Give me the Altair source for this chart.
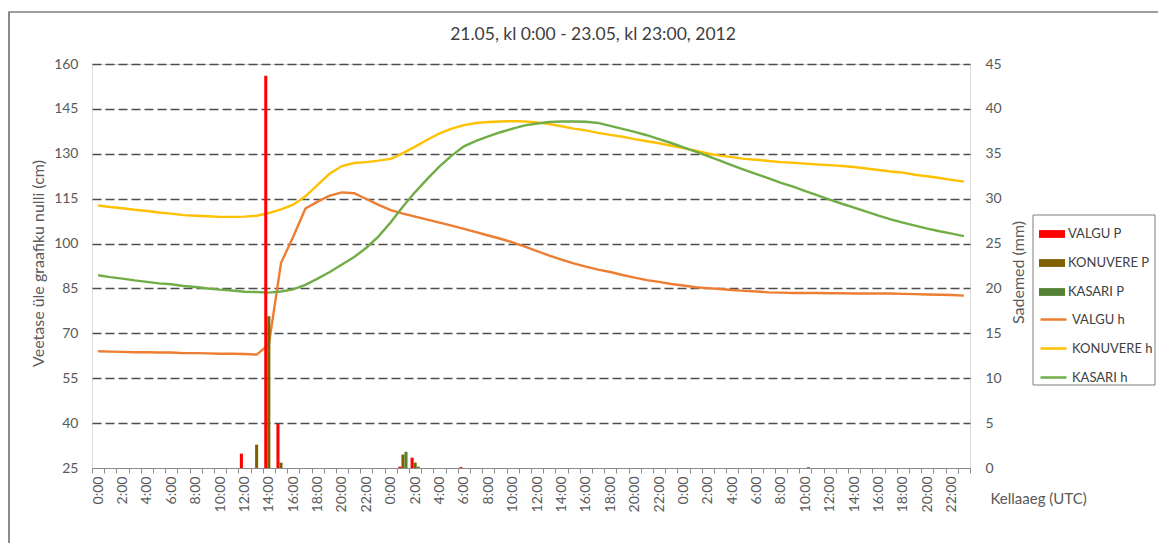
import altair as alt
import pandas as pd

# ---------------- data ----------------
hours = list(range(72))  # 21.05 0:00 ... 23.05 23:00

series_h = ["VALGU h", "KONUVERE h", "KASARI h"]
series_p = ["VALGU P", "KONUVERE P", "KASARI P"]

valgu_h = [64.0, 63.9, 63.8, 63.7, 63.7, 63.6, 63.6, 63.4, 63.4, 63.3, 63.2, 63.2,
           63.1, 62.9, 66.2, 93.5, 102.3, 111.7, 114.0, 116.0, 117.1, 116.8, 114.9, 112.9,
           111.2, 110.0, 109.0, 108.0, 107.0, 106.0, 104.9, 103.8, 102.7, 101.6, 100.4, 99.0,
           97.5, 96.0, 94.6, 93.4, 92.3, 91.3, 90.5, 89.5, 88.6, 87.8, 87.2, 86.5,
           86.0, 85.4, 85.1, 84.8, 84.5, 84.2, 84.0, 83.7, 83.6, 83.5, 83.5, 83.5,
           83.4, 83.4, 83.3, 83.3, 83.3, 83.3, 83.2, 83.1, 83.0, 82.9, 82.8, 82.6]

konuvere_h = [112.7, 112.2, 111.8, 111.3, 110.9, 110.4, 110.0, 109.5, 109.3, 109.1, 108.9, 108.9,
              109.0, 109.3, 110.2, 111.4, 113.0, 115.8, 119.6, 123.4, 125.9, 126.9, 127.2, 127.7,
              128.3, 130.2, 132.4, 134.7, 136.8, 138.4, 139.6, 140.3, 140.6, 140.8, 140.9, 140.8,
              140.5, 139.9, 139.2, 138.4, 137.8, 137.0, 136.3, 135.7, 134.9, 134.2, 133.5, 132.7,
              131.9, 131.0, 130.1, 129.4, 128.9, 128.3, 128.0, 127.6, 127.2, 127.0, 126.7, 126.4,
              126.2, 125.9, 125.6, 125.1, 124.6, 124.1, 123.7, 123.0, 122.5, 121.9, 121.3, 120.7]

kasari_h = [89.4, 88.8, 88.3, 87.7, 87.2, 86.7, 86.4, 85.8, 85.5, 85.0, 84.6, 84.3,
            83.9, 83.8, 83.6, 84.0, 84.7, 86.2, 88.3, 90.5, 93.0, 95.5, 98.6, 102.4,
            107.1, 112.4, 117.2, 121.6, 125.8, 129.4, 132.5, 134.3, 135.8, 137.2, 138.4, 139.5,
            140.1, 140.6, 140.8, 140.8, 140.7, 140.3, 139.3, 138.3, 137.3, 136.2, 134.9, 133.6,
            132.1, 130.7, 129.2, 127.7, 126.1, 124.6, 123.2, 121.8, 120.3, 119.0, 117.5, 116.1,
            114.7, 113.3, 112.0, 110.7, 109.3, 108.1, 107.0, 106.0, 105.0, 104.1, 103.3, 102.5]

# precipitation (mm), hourly
valgu_p = [0] * 72
valgu_p[12] = 1.6
valgu_p[14] = 43.7
valgu_p[15] = 4.9
valgu_p[25] = 0.15
valgu_p[26] = 1.15
valgu_p[30] = 0.1

konuvere_p = [0] * 72
konuvere_p[13] = 2.6
konuvere_p[14] = 16.9
konuvere_p[15] = 0.6
konuvere_p[25] = 1.5
konuvere_p[26] = 0.6

kasari_p = [0] * 72
kasari_p[25] = 1.8
kasari_p[26] = 0.15
kasari_p[58] = 0.1

colors_h = ["#ED7D31", "#FFC000", "#70AD47"]
colors_p = ["#FF0000", "#7F6000", "#548235"]

title_text = "21.05, kl 0:00 - 23.05, kl 23:00, 2012"

# ---------------- tables ----------------
rows_h = []
for name, vals in zip(series_h, [valgu_h, konuvere_h, kasari_h]):
    for h, v in zip(hours, vals):
        rows_h.append({"hour": h, "series": name, "value": v})
df_h = pd.DataFrame(rows_h)

rows_p = []
for name, vals in zip(series_p, [valgu_p, konuvere_p, kasari_p]):
    for h, v in zip(hours, vals):
        if v > 0:
            rows_p.append({"hour": h, "series": name, "value": v})
df_p = pd.DataFrame(rows_p)

FONT = "Lato"
TXT = "#595959"

x_enc = alt.X(
    "hour:O",
    scale=alt.Scale(paddingInner=0, paddingOuter=0),
    axis=alt.Axis(
        title="Kellaaeg (UTC)",
        titleX=898, titleY=30, titleAlign="left", titleBaseline="middle", titleAngle=0,
        titleFont=FONT, titleFontSize=15, titleFontWeight="normal", titleColor=TXT,
        labelExpr="datum.value % 2 == 0 ? (datum.value % 24) + ':00' : ''",
        labelAngle=270, labelOverlap=False, labelBound=False, labelFlush=False,
        labelFont=FONT, labelFontSize=14, labelColor=TXT, labelPadding=3,
        tickBand="extent", tickSize=5, tickColor="#8c8c8c", domainColor="#8c8c8c",
        grid=False,
    ),
)

lines = alt.Chart(df_h).mark_line(strokeWidth=2.4).encode(
    x=x_enc,
    y=alt.Y(
        "value:Q",
        scale=alt.Scale(domain=[25, 160], nice=False, zero=False),
        axis=alt.Axis(
            values=list(range(25, 161, 15)),
            title="Veetase üle graafiku nulli (cm)",
            titleX=-54, titleY=199, titleAngle=270, titleAlign="center", titleBaseline="middle",
            titleFont=FONT, titleFontSize=16, titleFontWeight="normal", titleColor=TXT,
            labelFont=FONT, labelFontSize=14, labelColor=TXT, labelPadding=14,
            ticks=False, tickSize=0, domain=False,
            grid=True, gridDash=[9, 4], gridColor="#4d4d4d", gridWidth=1.7,
            gridOpacity={"condition": {"test": "datum.value == 25", "value": 0}, "value": 1},
        ),
    ),
    stroke=alt.Stroke(
        "series:N",
        scale=alt.Scale(domain=series_h, range=colors_h),
        legend=alt.Legend(
            title=None, orient="none", legendX=947, legendY=241,
            symbolType="M-1,0H1", symbolSize=676, symbolStrokeWidth=2.5,
            labelFont=FONT, labelFontSize=13, labelColor="#404040", labelOffset=4,
            rowPadding=7, padding=0,
        ),
    ),
)

bars = alt.Chart(df_p).mark_bar().encode(
    x=x_enc,
    xOffset=alt.XOffset("series:N", scale=alt.Scale(domain=series_p, paddingOuter=0.5, paddingInner=0)),
    y=alt.Y(
        "value:Q",
        scale=alt.Scale(domain=[0, 45], nice=False),
        axis=alt.Axis(
            orient="right", values=list(range(0, 46, 5)),
            title="Sademed (mm)",
            titleX=48, titleY=208, titleAngle=270, titleAlign="center", titleBaseline="middle",
            titleFont=FONT, titleFontSize=16, titleFontWeight="normal", titleColor=TXT,
            labelFont=FONT, labelFontSize=14, labelColor=TXT, labelPadding=15,
            ticks=False, tickSize=0, domain=False, grid=False,
        ),
    ),
    fill=alt.Fill(
        "series:N",
        scale=alt.Scale(domain=series_p, range=colors_p),
        legend=alt.Legend(
            title=None, orient="none", legendX=947, legendY=157,
            symbolType="M-1,-0.3H1V0.3H-1Z", symbolSize=676, symbolStrokeWidth=0,
            labelFont=FONT, labelFontSize=13, labelColor="#404040", labelOffset=3,
            rowPadding=9, padding=0,
        ),
    ),
)

frame_src = pd.DataFrame({"k": [0]})
legend_box = alt.Chart(frame_src).mark_rect(fillOpacity=0, stroke="#7f7f7f", strokeWidth=1).encode(
    x=alt.value(941), x2=alt.value(1063), y=alt.value(151), y2=alt.value(321)
)
outer_box = alt.Chart(frame_src).mark_rect(fillOpacity=0, stroke="#404040", strokeWidth=1.2).encode(
    x=alt.value(-83), x2=alt.value(1090), y=alt.value(-52), y2=alt.value(560)
)

chart = (
    alt.layer(lines, bars, legend_box, outer_box)
    .resolve_scale(y="independent", fill="independent", stroke="independent")
    .properties(
        width=878,
        height=404,
        padding={"left": 84, "top": 56, "right": 188, "bottom": 75},
        autosize=alt.AutoSizeParams(type="none"),
        title=alt.TitleParams(
            title_text, font=FONT, fontSize=17.5, fontWeight="normal", color="#404040",
            anchor="middle", dx=62, offset=-50, baseline="bottom",
        ),
    )
    .configure_view(stroke=None)
    .configure(background="white")
)

chart.save("out.html", embed_options={"renderer": "svg", "actions": False})
